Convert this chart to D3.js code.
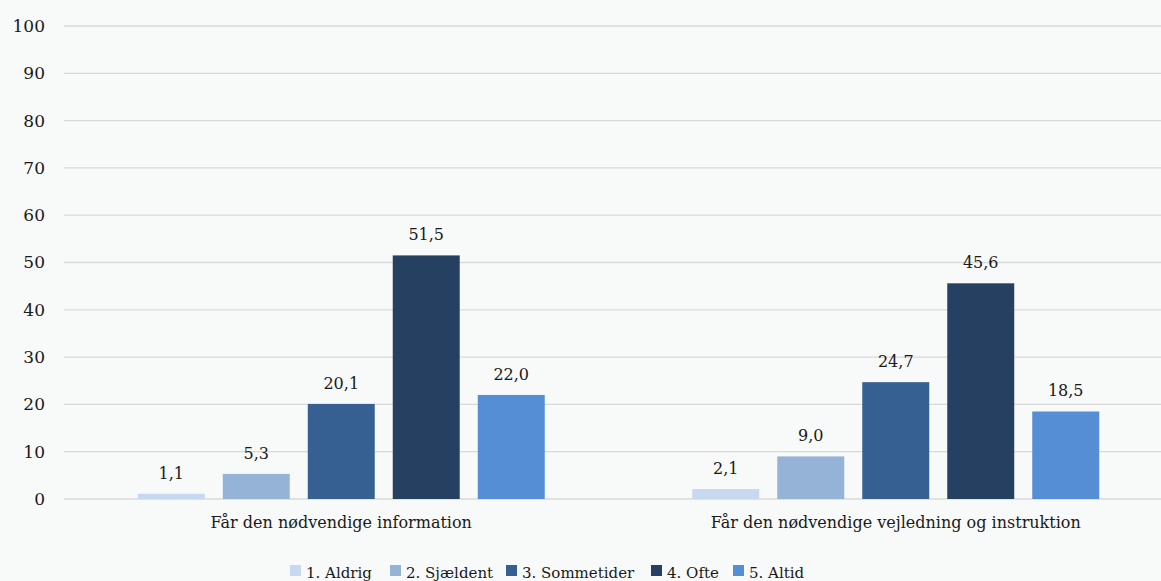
<!DOCTYPE html>
<html>
<head>
<meta charset="utf-8">
<script src="https://cdn.jsdelivr.net/npm/d3@7"></script>
<style>
  html, body { margin: 0; padding: 0; background: #f8f9f9; }
  svg text { font-family: "DejaVu Serif", serif; fill: #1a1a1a; }
</style>
</head>
<body>
<div id="chart"></div>
<script>
const categories = ['Får den nødvendige information', 'Får den nødvendige vejledning og instruktion'];
const seriesNames = ['1. Aldrig', '2. Sjældent', '3. Sommetider', '4. Ofte', '5. Altid'];
const infoValues = [1.1, 5.3, 20.1, 51.5, 22.0];
const guidanceValues = [2.1, 9.0, 24.7, 45.6, 18.5];
const yTicks = [0, 10, 20, 30, 40, 50, 60, 70, 80, 90, 100];
const colors = ['#c6d9f0', '#95b3d7', '#376092', '#254061', '#558ed5'];

const width = 1161;
const height = 581;
const margin = { top: 26, right: -12, bottom: 82, left: 64 };

const table = categories.map((c, i) => ({
    category: c,
    values: [infoValues, guidanceValues][i]
}));

const svg = d3.select('#chart')
    .append('svg')
    .attr('width', width)
    .attr('height', height);

const x0 = d3.scaleBand()
    .domain(categories)
    .range([margin.left, width - margin.right]);

const x1 = d3.scaleBand()
    .domain(seriesNames)
    .range([0, x0.bandwidth()])
    .paddingInner(0.212)
    .paddingOuter(0.868);

const y = d3.scaleLinear()
    .domain([0, 100])
    .range([height - margin.bottom, margin.top]);

// gridlines
svg.append('g')
    .selectAll('line')
    .data(yTicks)
    .enter().append('line')
    .attr('x1', margin.left)
    .attr('x2', width)
    .attr('y1', d => y(d))
    .attr('y2', d => y(d))
    .attr('stroke', '#d9d9d9')
    .attr('stroke-width', 1.3);

// y axis labels
svg.append('g')
    .selectAll('text')
    .data(yTicks)
    .enter().append('text')
    .attr('x', 45)
    .attr('y', d => y(d))
    .attr('dy', '0.35em')
    .attr('text-anchor', 'end')
    .style('font-size', '17px')
    .text(d => d);

const groups = svg.selectAll('.group')
    .data(table)
    .enter().append('g')
    .attr('class', 'group')
    .attr('transform', d => `translate(${x0(d.category)},0)`);

groups.selectAll('rect')
    .data(d => d.values.map((v, i) => ({ name: seriesNames[i], value: v, i })))
    .enter().append('rect')
    .attr('x', d => x1(d.name))
    .attr('width', x1.bandwidth())
    .attr('y', d => y(d.value))
    .attr('height', d => y(0) - y(d.value))
    .attr('fill', d => colors[d.i]);

groups.selectAll('.label')
    .data(d => d.values.map((v, i) => ({ name: seriesNames[i], value: v })))
    .enter().append('text')
    .attr('class', 'label')
    .attr('x', d => x1(d.name) + x1.bandwidth() / 2)
    .attr('y', d => y(d.value) - 15)
    .attr('text-anchor', 'middle')
    .style('font-size', '16px')
    .text(d => d.value.toFixed(1).replace('.', ','));

// category labels
svg.append('g')
    .selectAll('text')
    .data(categories)
    .enter().append('text')
    .attr('x', d => x0(d) + x0.bandwidth() / 2)
    .attr('y', 528)
    .attr('text-anchor', 'middle')
    .style('font-size', '16px')
    .text(d => d);

// legend (swatch positions as in the original layout)
const legendX = [290, 390, 506, 651, 733];
const items = svg.append('g')
    .selectAll('g')
    .data(seriesNames)
    .enter().append('g')
    .attr('transform', (d, i) => `translate(${legendX[i]},0)`);

items.append('rect')
    .attr('y', 565)
    .attr('width', 11)
    .attr('height', 11)
    .attr('fill', (d, i) => colors[i]);

items.append('text')
    .attr('x', 16)
    .attr('y', 578)
    .style('font-size', '15px')
    .text(d => d);
</script>
</body>
</html>
